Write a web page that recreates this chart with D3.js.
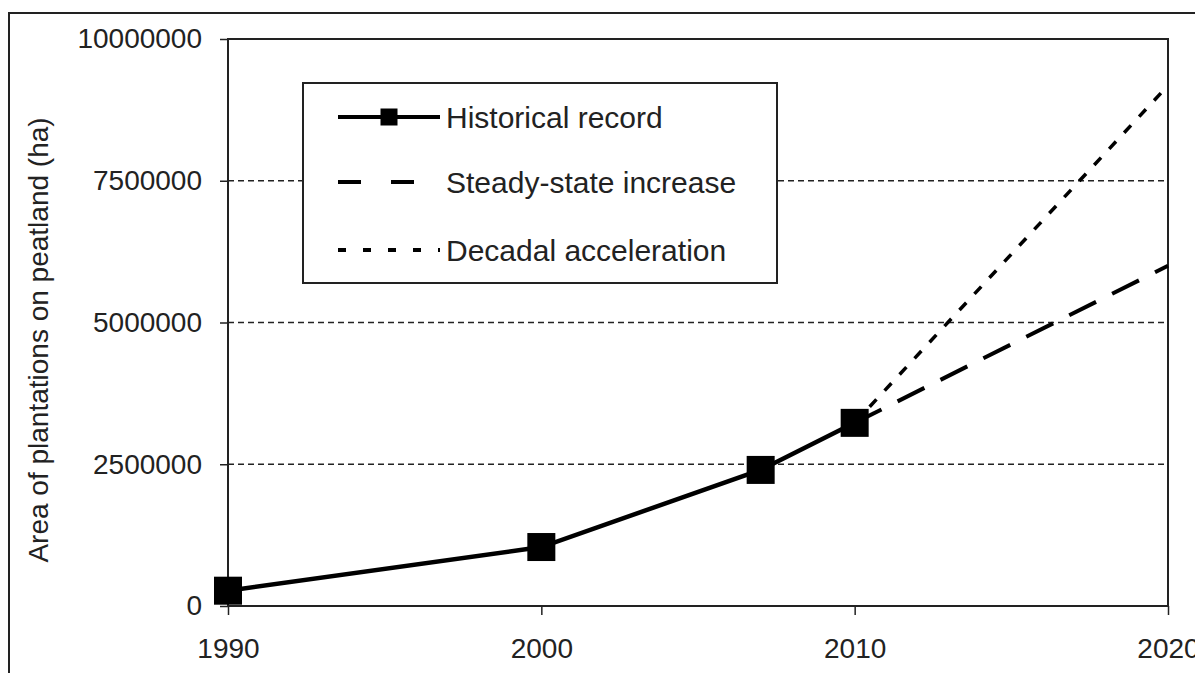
<!DOCTYPE html>
<html>
<head>
<meta charset="utf-8">
<script src="https://cdn.jsdelivr.net/npm/d3@7"></script>
<style>
  body { margin: 0; background: #fff; }
  svg { display: block; font-family: Arial, "Liberation Sans", sans-serif; }
</style>
</head>
<body>
<div id="chart"></div>
<script>
// data
const historyYears = [1990, 2000, 2007, 2010];
const historyArea = [270000, 1040000, 2400000, 3230000];
const steadyYears = [2010, 2020];
const steadyArea = [3230000, 6000000];
const decadalYears = [2010, 2020];
const decadalArea = [3230000, 9180000];
const xTicks = [1990, 2000, 2010, 2020];
const yTicks = [0, 2500000, 5000000, 7500000, 10000000];
const legendLabels = ["Historical record", "Steady-state increase", "Decadal acceleration"];

const W = 1195, H = 673;
const margin = {top: 39, right: 27, bottom: 67, left: 228};
const width = W - margin.left - margin.right;
const height = H - margin.top - margin.bottom;

const svg = d3.select("#chart").append("svg").attr("width", W).attr("height", H);

// outer frame
svg.append("rect")
  .attr("x", 9).attr("y", 13).attr("width", W + 20).attr("height", H + 20)
  .attr("fill", "none").attr("stroke", "#222").attr("stroke-width", 2);

const g = svg.append("g").attr("transform", `translate(${margin.left}, ${margin.top})`);

const x = d3.scaleLinear().domain([1990, 2020]).range([0, width]);
const y = d3.scaleLinear().domain([0, 10000000]).range([height, 0]);

// gridlines
g.append("g")
  .selectAll("line")
  .data(yTicks.filter(d => d > 0 && d < 10000000))
  .join("line")
    .attr("x1", 0).attr("x2", width)
    .attr("y1", d => y(d)).attr("y2", d => y(d))
    .attr("stroke", "#222").attr("stroke-width", 1.6)
    .attr("stroke-dasharray", "6,4");

// axes
const yAxis = g.append("g")
  .call(d3.axisLeft(y).tickValues(yTicks).tickSize(8).tickPadding(18).tickFormat(d3.format("d")));
const xAxis = g.append("g")
  .attr("transform", `translate(0, ${height})`)
  .call(d3.axisBottom(x).tickValues(xTicks).tickSize(9).tickPadding(33).tickFormat(d3.format("d")));

[yAxis, xAxis].forEach(a => {
  a.select(".domain").remove();
  a.selectAll("line").attr("stroke", "#222").attr("stroke-width", 1.5);
  a.selectAll("text").attr("font-size", "28px").attr("fill", "#222");
});
xAxis.selectAll("text").attr("dy", "0.35em");

// plot box
g.append("rect")
  .attr("width", width).attr("height", height)
  .attr("fill", "none").attr("stroke", "#222").attr("stroke-width", 2);

// series
const line = d3.line().x(d => x(d[0])).y(d => y(d[1]));

g.append("path")
  .datum(d3.zip(decadalYears, decadalArea))
  .attr("d", line).attr("fill", "none")
  .attr("stroke", "#000").attr("stroke-width", 3.5)
  .attr("stroke-dasharray", "10,12");

g.append("path")
  .datum(d3.zip(steadyYears, steadyArea))
  .attr("d", line).attr("fill", "none")
  .attr("stroke", "#000").attr("stroke-width", 4)
  .attr("stroke-dasharray", "30,18");

g.append("path")
  .datum(d3.zip(historyYears, historyArea))
  .attr("d", line).attr("fill", "none")
  .attr("stroke", "#000").attr("stroke-width", 4.5);

const ms = 28;
g.append("g")
  .selectAll("rect")
  .data(d3.zip(historyYears, historyArea))
  .join("rect")
    .attr("x", d => x(d[0]) - ms / 2)
    .attr("y", d => y(d[1]) - ms / 2)
    .attr("width", ms).attr("height", ms)
    .attr("fill", "#000");

// legend
const legend = svg.append("g").attr("transform", "translate(303, 83)");
legend.append("rect")
  .attr("width", 474).attr("height", 200)
  .attr("fill", "#fff").attr("stroke", "#222").attr("stroke-width", 2);

const rowY = [34, 99, 167];
const sampleDash = [null, "23,30", "8,17"];
const entries = legend.selectAll("g.entry")
  .data(legendLabels)
  .join("g")
    .attr("class", "entry")
    .attr("transform", (d, i) => `translate(0, ${rowY[i]})`);

entries.append("line")
  .attr("x1", 35).attr("x2", 137)
  .attr("stroke", "#000").attr("stroke-width", 4)
  .attr("stroke-dasharray", (d, i) => sampleDash[i]);

entries.filter((d, i) => i === 0)
  .append("rect")
    .attr("x", 86 - 8.5).attr("y", -8.5)
    .attr("width", 17).attr("height", 17)
    .attr("fill", "#000");

entries.append("text")
  .attr("x", 143).attr("dy", "0.36em")
  .attr("font-size", "30px").attr("fill", "#222")
  .text(d => d);

// y axis title
svg.append("text")
  .attr("transform", "translate(38, 340) rotate(-90)")
  .attr("text-anchor", "middle").attr("dy", "0.36em")
  .attr("font-size", "28px").attr("fill", "#222")
  .text("Area of plantations on peatland (ha)");
</script>
</body>
</html>
